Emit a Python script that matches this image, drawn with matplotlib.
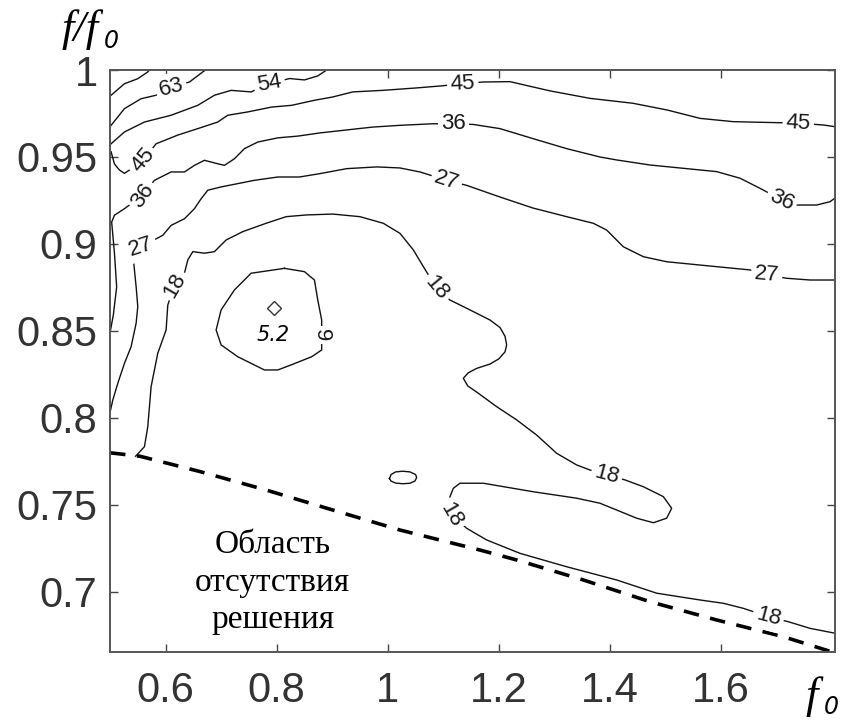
import numpy as np
import matplotlib.pyplot as plt

plt.rcParams['font.family'] = 'Liberation Sans'

# contour lines, (f0, f/f0) pairs; label centres are part of each path
c72 = [(0.502, 0.9855), (0.526, 0.9921), (0.550, 0.9950), (0.568, 0.9989), (0.571, 1.0)]

c63 = [(0.502, 0.9682), (0.526, 0.9778), (0.556, 0.9835), (0.583, 0.9855), (0.610, 0.9902),
       (0.643, 0.9931), (0.667, 0.9989), (0.672, 1.0)]

c54 = [(0.502, 0.9576), (0.526, 0.9644), (0.562, 0.9701), (0.610, 0.9740), (0.658, 0.9797),
       (0.688, 0.9855), (0.718, 0.9883), (0.754, 0.9874), (0.787, 0.9921), (0.823, 0.9951),
       (0.850, 0.9943), (0.874, 0.9966), (0.890, 1.0)]

c45 = [(0.502, 0.9530), (0.508, 0.9460), (0.517, 0.9425), (0.526, 0.9406), (0.535, 0.9425),
       (0.559, 0.9481), (0.583, 0.9576), (0.622, 0.9626), (0.658, 0.9663), (0.694, 0.9701),
       (0.712, 0.9740), (0.748, 0.9759), (0.791, 0.9787), (0.827, 0.9797), (0.868, 0.9826),
       (0.901, 0.9845), (0.937, 0.9874), (0.991, 0.9883), (1.052, 0.9897), (1.094, 0.9908),
       (1.135, 0.9921), (1.171, 0.9931), (1.220, 0.9933), (1.292, 0.9880), (1.364, 0.9837),
       (1.441, 0.9809), (1.503, 0.9770), (1.562, 0.9722), (1.622, 0.9703), (1.706, 0.9697),
       (1.739, 0.9694), (1.784, 0.9684), (1.805, 0.9674)]

c36 = [(0.501, 0.8506), (0.506, 0.8592), (0.512, 0.8753), (0.508, 0.8948), (0.503, 0.9126),
       (0.508, 0.9165), (0.526, 0.9203), (0.559, 0.9280), (0.580, 0.9366), (0.610, 0.9414),
       (0.634, 0.9414), (0.652, 0.9452), (0.670, 0.9481), (0.694, 0.9461), (0.706, 0.9452),
       (0.724, 0.9490), (0.742, 0.9548), (0.766, 0.9586), (0.802, 0.9610), (0.838, 0.9620),
       (0.877, 0.9638), (0.919, 0.9653), (0.973, 0.9672), (1.022, 0.9682), (1.081, 0.9691),
       (1.118, 0.9691), (1.154, 0.9687), (1.202, 0.9663), (1.262, 0.9605), (1.322, 0.9548),
       (1.382, 0.9500), (1.412, 0.9483), (1.472, 0.9454), (1.532, 0.9435), (1.592, 0.9416),
       (1.634, 0.9378), (1.670, 0.9320), (1.709, 0.9253), (1.736, 0.9224), (1.772, 0.9224),
       (1.796, 0.9243), (1.805, 0.9264)]

c27 = [(0.499, 0.8017), (0.505, 0.8103), (0.514, 0.8199), (0.526, 0.8314), (0.538, 0.8410),
       (0.547, 0.8544), (0.550, 0.8640), (0.547, 0.8755), (0.544, 0.8851), (0.541, 0.8947),
       (0.556, 0.8984), (0.595, 0.9050), (0.610, 0.9107), (0.634, 0.9145), (0.652, 0.9203),
       (0.664, 0.9260), (0.676, 0.9309), (0.700, 0.9328), (0.730, 0.9347), (0.760, 0.9366),
       (0.802, 0.9385), (0.841, 0.9385), (0.877, 0.9404), (0.926, 0.9433), (0.980, 0.9443),
       (1.022, 0.9437), (1.058, 0.9414), (1.106, 0.9366), (1.142, 0.9337), (1.202, 0.9270),
       (1.261, 0.9207), (1.322, 0.9157), (1.370, 0.9119), (1.394, 0.9080), (1.424, 0.8984),
       (1.460, 0.8927), (1.502, 0.8898), (1.562, 0.8879), (1.652, 0.8851), (1.682, 0.8822),
       (1.718, 0.8803), (1.760, 0.8793), (1.805, 0.8793)]

c18 = [(0.546, 0.7780), (0.562, 0.7835), (0.568, 0.7950), (0.574, 0.8180), (0.586, 0.8372),
       (0.601, 0.8506), (0.604, 0.8649), (0.616, 0.8764), (0.634, 0.8832), (0.640, 0.8908),
       (0.649, 0.8956), (0.670, 0.8947), (0.688, 0.8956), (0.709, 0.9023), (0.739, 0.9071),
       (0.781, 0.9119), (0.817, 0.9157), (0.854, 0.9167), (0.901, 0.9172), (0.950, 0.9157),
       (0.992, 0.9119), (1.022, 0.9061), (1.046, 0.8966), (1.064, 0.8870), (1.088, 0.8745),
       (1.112, 0.8678), (1.148, 0.8621), (1.184, 0.8563), (1.202, 0.8520), (1.211, 0.8470),
       (1.214, 0.8420), (1.211, 0.8380), (1.200, 0.8340), (1.184, 0.8310), (1.160, 0.8285),
       (1.145, 0.8260), (1.136, 0.8228), (1.144, 0.8184),
       (1.160, 0.8149), (1.196, 0.8065), (1.232, 0.7989), (1.268, 0.7902), (1.304, 0.7797),
       (1.340, 0.7730), (1.364, 0.7701), (1.394, 0.7672), (1.427, 0.7644), (1.460, 0.7605),
       (1.496, 0.7548), (1.511, 0.7481), (1.502, 0.7424), (1.478, 0.7398), (1.448, 0.7424),
       (1.412, 0.7471), (1.382, 0.7510), (1.340, 0.7539), (1.262, 0.7576), (1.172, 0.7625),
       (1.130, 0.7625), (1.118, 0.7596), (1.112, 0.7548), (1.115, 0.7443), (1.142, 0.7366),
       (1.178, 0.7299), (1.238, 0.7222), (1.322, 0.7145), (1.412, 0.7069), (1.484, 0.6993),
       (1.562, 0.6954), (1.604, 0.6935), (1.640, 0.6906), (1.685, 0.6858), (1.721, 0.6829),
       (1.760, 0.6791), (1.805, 0.6763)]

c18_island = [(1.003, 0.7652), (1.006, 0.7675), (1.014, 0.7690), (1.027, 0.7694), (1.040, 0.7690),
              (1.050, 0.7675), (1.052, 0.7658), (1.049, 0.7638), (1.040, 0.7625), (1.027, 0.7622),
              (1.014, 0.7626), (1.006, 0.7637), (1.003, 0.7652)]

c9 = [(0.814, 0.8860), (0.754, 0.8832), (0.724, 0.8736), (0.700, 0.8621), (0.691, 0.8506),
      (0.700, 0.8420), (0.730, 0.8352), (0.778, 0.8276), (0.802, 0.8276), (0.826, 0.8305),
      (0.863, 0.8352), (0.881, 0.8391), (0.881, 0.8477), (0.881, 0.8563), (0.874, 0.8678),
      (0.868, 0.8793), (0.850, 0.8841), (0.814, 0.8860)]

# no-solution boundary
border_f0 = [0.500, 0.554, 0.662, 0.781, 0.901, 1.022, 1.166, 1.232, 1.352, 1.472, 1.592, 1.712, 1.805]
border_ratio = [0.7800, 0.7780, 0.7692, 0.7586, 0.7471, 0.7356, 0.7241, 0.7184, 0.7069, 0.6944,
                0.6839, 0.6743, 0.6650]

# contour labels
label_text = ['63', '54', '45', '45', '45', '36', '36', '36', '27', '27', '27',
              '18', '18', '18', '18', '18', '9']
label_x = [0.610, 0.787, 0.559, 1.135, 1.739, 0.559, 1.118, 1.709, 0.556, 1.106, 1.682,
           0.616, 1.088, 1.394, 1.115, 1.685, 0.881]
label_y = [0.9902, 0.9921, 0.9481, 0.9921, 0.9694, 0.9280, 0.9691, 0.9253, 0.8984, 0.9366, 0.8822,
           0.8764, 0.8745, 0.7672, 0.7443, 0.6858, 0.8477]
label_rot = [15, 10, 50, 3, -3, 55, 0, -25, 18, -18, -5, 60, -50, -15, -60, -15, -90]

# minimum point
min_f0, min_ratio, min_value = 0.796, 0.863, 5.2

xticks = [0.6, 0.8, 1.0, 1.2, 1.4, 1.6]
xticklabels = ['0.6', '0.8', '1', '1.2', '1.4', '1.6']
yticks = [0.7, 0.75, 0.8, 0.85, 0.9, 0.95, 1.0]
yticklabels = ['0.7', '0.75', '0.8', '0.85', '0.9', '0.95', '1']

region_lines = ['Область', 'отсутствия', 'решения']

fig = plt.figure(figsize=(8.44, 7.2), dpi=100)
ax = fig.add_axes([110 / 844, 1 - 652 / 720, 725 / 844, 582 / 720])
ax.set_xlim(0.5, 1.805)
ax.set_ylim(0.6655, 1.0)

for path in [c72, c63, c54, c45, c36, c27, c18, c18_island, c9]:
    xs, ys = zip(*path)
    ax.plot(xs, ys, color='#111111', lw=1.0, solid_joinstyle='round', zorder=2)

# labels sit under the spines so their white boxes never cut the frame
for t, x, y, r in zip(label_text, label_x, label_y, label_rot):
    ax.text(x, y, t, fontsize=16, color='#1a1a1a', rotation=r, rotation_mode='anchor',
            ha='center', va='center', zorder=2.2,
            bbox=dict(boxstyle='square,pad=0.15', fc='white', ec='none'))

ax.plot(border_f0, border_ratio, color='black', lw=2.6, ls='--', dashes=(4.3, 3.2), zorder=2.1)

ax.plot([min_f0], [min_ratio], marker='D', ms=7.5, mfc='white', mec='#333333', mew=1.0, zorder=4)
ax.text(min_f0 - 0.003, 0.8477, f'{min_value}', fontsize=15, style='italic',
        family='DejaVu Sans', ha='center', va='center', color='black', zorder=4)

for i, line in enumerate(region_lines):
    ax.text(0.793, 0.7224 - i * 0.0216, line, fontsize=24, family='Liberation Serif',
            ha='center', va='baseline', color='black', zorder=4)

ax.set_xticks(xticks)
ax.set_xticklabels(xticklabels)
ax.set_yticks(yticks)
ax.set_yticklabels(yticklabels)
ax.tick_params(direction='in', length=6, width=1.0, top=True, right=True,
               color='#444444', labelcolor='#333333', labelsize=30)
ax.tick_params(axis='x', pad=14)
ax.tick_params(axis='y', pad=9)
for s in ax.spines.values():
    s.set_color('#555555')
    s.set_linewidth(1.4)
    s.set_zorder(3)

# axis names
fig.text(62 / 844, 1 - 41 / 720, 'f/f', fontsize=32, family='Liberation Serif', style='italic',
         ha='left', va='baseline')
fig.text(104 / 844, 1 - 48 / 720, '0', fontsize=17, family='DejaVu Sans', style='italic',
         ha='left', va='baseline')
fig.text(806 / 844, 1 - 708 / 720, 'f', fontsize=32, family='Liberation Serif', style='italic',
         ha='left', va='baseline')
fig.text(824 / 844, 1 - 714 / 720, '0', fontsize=17, family='DejaVu Sans', style='italic',
         ha='left', va='baseline')

fig.savefig('out.png', dpi=100)
